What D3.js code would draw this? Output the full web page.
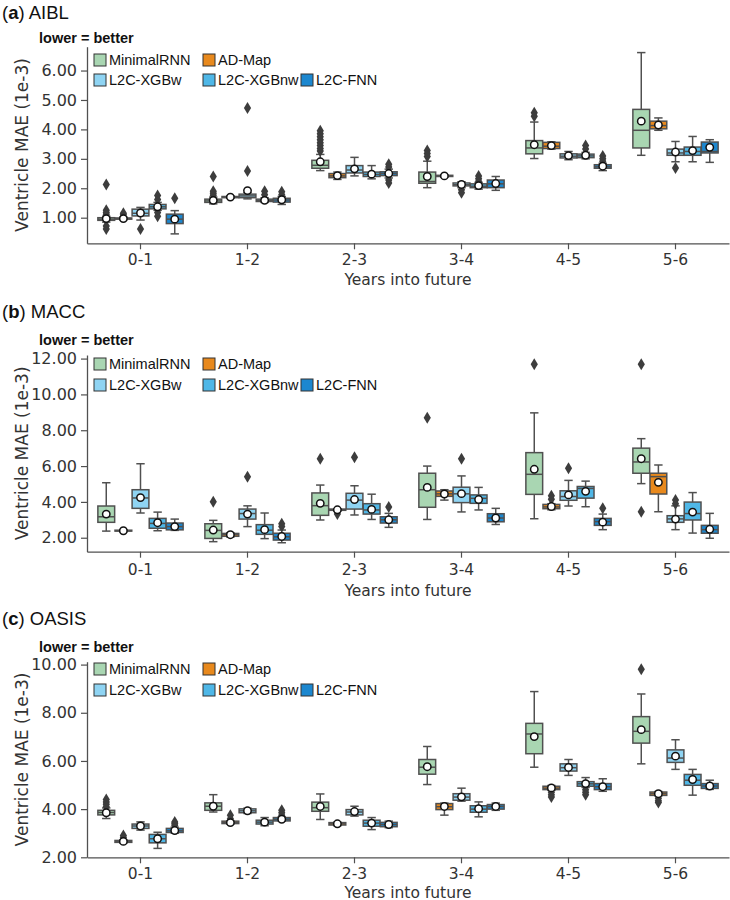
<!DOCTYPE html>
<html><head><meta charset="utf-8">
<script src="https://cdn.jsdelivr.net/npm/d3@7"></script>
<style>body{margin:0;background:#fff}svg{display:block}</style>
</head><body><svg id="chart" width="730" height="900"></svg>
<script>
const categories = ["0-1", "1-2", "2-3", "3-4", "4-5", "5-6"];
const models = ["MinimalRNN", "AD-Map", "L2C-XGBw", "L2C-XGBnw", "L2C-FNN"];
const yTicksAIBL = [1, 2, 3, 4, 5, 6];
const yTicksMACC = [2, 4, 6, 8, 10, 12];
const yTicksOASIS = [2, 4, 6, 8, 10];

// each row: [whisker low, q1, median, q3, whisker high, mean, [outliers]]
const aibl_MinimalRNN = [
  [0.85, 0.91, 0.95, 1.00, 1.05, 0.97, [2.13, 1.25, 1.18, 1.12, 0.72, 0.62]],
  [1.47, 1.52, 1.57, 1.63, 1.70, 1.59, [2.40, 1.90, 1.83, 1.76]],
  [2.60, 2.68, 2.78, 2.95, 3.15, 2.90, [3.95, 3.85, 3.75, 3.65, 3.55, 3.45, 3.35, 3.27]],
  [2.02, 2.17, 2.23, 2.55, 2.92, 2.40, [3.28, 3.18, 3.08]],
  [3.01, 3.17, 3.37, 3.62, 4.25, 3.48, [4.57, 4.45]],
  [3.12, 3.37, 3.97, 4.68, 6.61, 4.28, []]
];
const aibl_ADMap = [
  [0.93, 0.95, 0.97, 0.99, 1.02, 0.97, [1.15, 1.10]],
  [1.66, 1.68, 1.70, 1.72, 1.74, 1.70, []],
  [2.30, 2.36, 2.42, 2.50, 2.55, 2.43, []],
  [2.38, 2.40, 2.42, 2.44, 2.46, 2.42, []],
  [3.33, 3.35, 3.43, 3.56, 3.58, 3.45, []],
  [3.97, 4.02, 4.13, 4.28, 4.39, 4.15, []]
];
const aibl_XGBw = [
  [0.92, 1.06, 1.15, 1.29, 1.35, 1.16, [0.62]],
  [1.64, 1.68, 1.74, 1.80, 1.85, 1.92, [4.73, 2.59]],
  [2.42, 2.52, 2.62, 2.77, 3.05, 2.66, []],
  [2.02, 2.08, 2.12, 2.18, 2.22, 2.13, [1.95, 1.85]],
  [2.97, 3.03, 3.09, 3.17, 3.25, 3.11, []],
  [2.90, 3.12, 3.20, 3.33, 3.59, 3.23, [2.69]]
];
const aibl_XGBnw = [
  [1.25, 1.30, 1.37, 1.45, 1.52, 1.37, [1.75, 1.62, 1.18, 1.05]],
  [1.52, 1.55, 1.58, 1.63, 1.68, 1.59, [1.90, 1.78]],
  [2.32, 2.40, 2.47, 2.55, 2.77, 2.48, []],
  [1.97, 2.02, 2.07, 2.15, 2.20, 2.09, [2.42, 2.32, 2.24]],
  [3.00, 3.04, 3.10, 3.16, 3.22, 3.12, [3.45, 3.33]],
  [2.90, 3.12, 3.25, 3.40, 3.76, 3.28, []]
];
const aibl_FNN = [
  [0.45, 0.80, 0.95, 1.12, 1.24, 0.95, [1.66]],
  [1.45, 1.53, 1.60, 1.66, 1.72, 1.61, [1.88, 1.78]],
  [2.35, 2.43, 2.50, 2.56, 2.65, 2.50, [2.82, 2.72, 2.28, 2.18]],
  [1.93, 2.02, 2.15, 2.28, 2.40, 2.16, []],
  [2.60, 2.68, 2.73, 2.80, 2.85, 2.75, [3.10, 3.00, 2.92]],
  [2.88, 3.20, 3.25, 3.57, 3.65, 3.39, []]
];

const macc_MinimalRNN = [
  [2.37, 2.86, 3.17, 3.77, 5.07, 3.32, []],
  [1.78, 1.96, 2.41, 2.78, 2.97, 2.43, [4.01]],
  [2.99, 3.25, 3.79, 4.50, 4.94, 3.92, [6.41]],
  [3.02, 3.70, 4.68, 5.60, 6.00, 4.81, [8.70]],
  [3.06, 4.42, 5.54, 6.75, 8.97, 5.82, [11.69]],
  [5.02, 5.60, 6.23, 7.00, 7.53, 6.41, [11.69, 3.45]]
];
const macc_ADMap = [
  [2.34, 2.37, 2.39, 2.42, 2.44, 2.39, []],
  [2.04, 2.08, 2.17, 2.24, 2.28, 2.17, []],
  [3.50, 3.53, 3.56, 3.60, 3.62, 3.56, [3.32]],
  [4.10, 4.31, 4.45, 4.61, 4.68, 4.44, []],
  [3.56, 3.62, 3.72, 3.86, 3.90, 3.74, [4.35, 4.15]],
  [3.45, 4.44, 5.41, 5.60, 6.06, 5.09, []]
];
const macc_XGBw = [
  [3.38, 3.64, 4.22, 4.68, 6.13, 4.24, []],
  [2.62, 3.04, 3.35, 3.60, 3.78, 3.32, [5.41]],
  [3.27, 3.60, 4.10, 4.48, 4.90, 4.13, [6.49]],
  [3.44, 3.96, 4.45, 4.82, 5.45, 4.46, [6.41]],
  [3.77, 4.09, 4.30, 4.62, 5.20, 4.39, [5.88]],
  [2.45, 2.86, 3.05, 3.23, 3.78, 3.04, [4.10, 3.90]]
];
const macc_XGBnw = [
  [2.39, 2.53, 2.80, 3.08, 3.43, 2.84, []],
  [1.95, 2.19, 2.42, 2.73, 3.38, 2.45, []],
  [3.02, 3.32, 3.55, 3.90, 4.43, 3.58, []],
  [3.55, 3.92, 4.20, 4.39, 4.81, 4.13, []],
  [3.73, 4.21, 4.75, 4.86, 5.16, 4.59, []],
  [2.26, 2.99, 3.35, 3.99, 4.52, 3.43, []]
];
const macc_FNN = [
  [2.41, 2.44, 2.62, 2.82, 3.04, 2.62, []],
  [1.72, 1.87, 2.05, 2.25, 2.43, 2.07, [2.78, 2.62]],
  [2.58, 2.82, 3.00, 3.17, 3.36, 3.00, [3.72]],
  [2.74, 2.89, 3.10, 3.34, 3.64, 3.10, []],
  [2.45, 2.69, 2.90, 3.08, 3.32, 2.87, [3.64]],
  [1.97, 2.25, 2.45, 2.69, 3.36, 2.47, []]
];

const oasis_MinimalRNN = [
  [3.61, 3.76, 3.86, 3.95, 4.05, 3.85, [4.40, 4.30, 4.20, 4.10]],
  [3.88, 3.95, 4.12, 4.26, 4.60, 4.12, []],
  [3.57, 3.91, 4.06, 4.29, 4.63, 4.11, []],
  [5.02, 5.45, 5.74, 6.06, 6.60, 5.76, []],
  [5.74, 6.30, 7.12, 7.56, 8.88, 7.01, []],
  [5.88, 6.74, 7.23, 7.84, 8.78, 7.30, [9.81]]
];
const oasis_ADMap = [
  [2.60, 2.62, 2.66, 2.70, 2.72, 2.66, [2.90, 2.82]],
  [3.38, 3.40, 3.44, 3.50, 3.52, 3.44, [3.75, 3.60]],
  [3.31, 3.34, 3.39, 3.44, 3.46, 3.39, []],
  [3.75, 3.98, 4.10, 4.23, 4.25, 4.11, []],
  [4.78, 4.81, 4.87, 4.95, 4.98, 4.88, [4.70, 4.60, 4.50]],
  [4.55, 4.57, 4.64, 4.71, 4.73, 4.64, [4.45, 4.35, 4.28]]
];
const oasis_XGBw = [
  [3.13, 3.20, 3.30, 3.38, 3.47, 3.30, []],
  [3.82, 3.85, 3.93, 4.01, 4.04, 3.93, []],
  [3.71, 3.76, 3.88, 3.98, 4.12, 3.90, []],
  [4.33, 4.37, 4.50, 4.64, 4.87, 4.51, []],
  [5.40, 5.58, 5.72, 5.88, 6.06, 5.73, []],
  [5.65, 5.94, 6.12, 6.46, 6.88, 6.20, []]
];
const oasis_XGBnw = [
  [2.37, 2.60, 2.77, 2.95, 3.04, 2.77, []],
  [3.31, 3.38, 3.46, 3.54, 3.65, 3.46, []],
  [3.15, 3.29, 3.42, 3.54, 3.65, 3.42, []],
  [3.68, 3.87, 4.00, 4.14, 4.30, 4.02, []],
  [4.90, 4.95, 5.05, 5.14, 5.31, 5.06, [4.80, 4.70, 4.60]],
  [4.58, 4.99, 5.20, 5.44, 5.65, 5.23, []]
];
const oasis_FNN = [
  [3.00, 3.03, 3.10, 3.20, 3.25, 3.11, [3.47, 3.40, 3.33]],
  [3.50, 3.51, 3.58, 3.65, 3.68, 3.58, [3.95, 3.85, 3.75]],
  [3.23, 3.27, 3.36, 3.45, 3.50, 3.36, []],
  [3.95, 4.00, 4.11, 4.19, 4.25, 4.11, []],
  [4.74, 4.81, 4.93, 5.06, 5.26, 4.93, []],
  [4.82, 4.86, 4.96, 5.06, 5.20, 4.96, []]
];

// ---------- styling / layout ----------
const modelColors = ["#a9d6b2", "#e8891d", "#8fd4f3", "#4fb7e7", "#1c87cf"];
const lineColor = "#505050";
const textColor = "#333333";
const FONT = "'Liberation Sans', Arial, sans-serif";
const TICKFONT = "'DejaVu Sans', sans-serif";

const panels = [
  {letter: "a", name: "AIBL", data: [aibl_MinimalRNN, aibl_ADMap, aibl_XGBw, aibl_XGBnw, aibl_FNN],
   ticks: yTicksAIBL, domain: [0.13, 6.81], top: 46.7, bottom: 243.3,
   titleY: 12, noteY: 37.5, legY: [60, 80], xLabY: 260, xTitleY: 280},
  {letter: "b", name: "MACC", data: [macc_MinimalRNN, macc_ADMap, macc_XGBw, macc_XGBnw, macc_FNN],
   ticks: yTicksMACC, domain: [1.22, 12.2], top: 355, bottom: 551.7,
   titleY: 310.5, noteY: 340, legY: [364, 385], xLabY: 570, xTitleY: 591},
  {letter: "c", name: "OASIS", data: [oasis_MinimalRNN, oasis_ADMap, oasis_XGBw, oasis_XGBnw, oasis_FNN],
   ticks: yTicksOASIS, domain: [2, 10.12], top: 661.7, bottom: 857.3,
   titleY: 618, noteY: 647, legY: [669, 690], xLabY: 874, xTitleY: 892.5}
];

const left = 87, right = 729;
const svg = d3.select("#chart");

const x0 = d3.scaleBand().domain(categories).range([left, right]).paddingInner(0).paddingOuter(0);
const x1 = d3.scaleBand().domain(models)
  .range([x0.bandwidth() * 0.1, x0.bandwidth() * 0.9]).paddingInner(0).paddingOuter(0);
const boxW = x1.bandwidth() * 0.98;

const legendLayout = [
  {m: 0, row: 0, x: 94}, {m: 1, row: 0, x: 203},
  {m: 2, row: 1, x: 94}, {m: 3, row: 1, x: 203}, {m: 4, row: 1, x: 301}
];

const diamond = "M0,-6L3.6,0L0,6L-3.6,0Z";

panels.forEach(p => {
  const g = svg.append("g");
  const y = d3.scaleLinear().domain(p.domain).range([p.bottom, p.top]);

  // title
  const t = g.append("text").attr("x", 2).attr("y", p.titleY)
    .attr("dominant-baseline", "central")
    .style("font-family", FONT).style("font-size", "18.5px").attr("fill", "#111");
  t.append("tspan").text("(");
  t.append("tspan").attr("font-weight", "bold").text(p.letter);
  t.append("tspan").text(") " + p.name);

  g.append("text").attr("x", 39).attr("y", p.noteY).attr("dominant-baseline", "central")
    .style("font-family", FONT).style("font-size", "14.5px").style("font-weight", "bold")
    .attr("fill", "#111").text("lower = better");

  // axes
  const ya = g.append("g").attr("transform", `translate(${left},0)`)
    .call(d3.axisLeft(y).tickValues(p.ticks).tickFormat(d3.format(".2f")).tickSize(6).tickSizeOuter(0).tickPadding(4));
  const xa = g.append("g").attr("transform", `translate(0,${p.bottom})`)
    .call(d3.axisBottom(x0).tickSize(6).tickSizeOuter(0).tickPadding(5));
  [ya, xa].forEach(a => {
    a.select(".domain").attr("stroke", lineColor).attr("stroke-width", 1.3);
    a.selectAll(".tick line").attr("stroke", lineColor).attr("stroke-width", 1.2);
    a.selectAll(".tick text").attr("fill", textColor)
      .style("font-family", TICKFONT).style("font-size", "16px");
  });
  xa.selectAll(".tick text").attr("dy", null).attr("y", p.xLabY - p.bottom).attr("dominant-baseline", "central")
    .style("font-size", "15.5px");

  g.append("text").attr("x", (left + right) / 2).attr("y", p.xTitleY)
    .attr("text-anchor", "middle").attr("dominant-baseline", "central")
    .style("font-family", TICKFONT).style("font-size", "15.5px").attr("fill", textColor)
    .text("Years into future");

  g.append("text").attr("transform", `translate(28,${(p.top + p.bottom) / 2}) rotate(-90)`)
    .attr("text-anchor", "middle")
    .style("font-family", TICKFONT).style("font-size", "17px").attr("fill", textColor)
    .text("Ventricle MAE (1e-3)");

  // boxes
  models.forEach((m, mi) => {
    const rows = p.data[mi];
    categories.forEach((c, ci) => {
      const [lo, q1, med, q3, hi, mean, outs] = rows[ci];
      const cx = x0(c) + x1(m) + x1.bandwidth() / 2;
      const bg = g.append("g");
      bg.append("line").attr("x1", cx).attr("x2", cx).attr("y1", y(q3)).attr("y2", y(hi))
        .attr("stroke", lineColor).attr("stroke-width", 1.5);
      bg.append("line").attr("x1", cx).attr("x2", cx).attr("y1", y(q1)).attr("y2", y(lo))
        .attr("stroke", lineColor).attr("stroke-width", 1.5);
      [lo, hi].forEach(v => bg.append("line")
        .attr("x1", cx - boxW / 4).attr("x2", cx + boxW / 4).attr("y1", y(v)).attr("y2", y(v))
        .attr("stroke", lineColor).attr("stroke-width", 1.5));
      bg.append("rect").attr("x", cx - boxW / 2).attr("width", boxW)
        .attr("y", y(q3)).attr("height", Math.max(0.5, y(q1) - y(q3)))
        .attr("fill", modelColors[mi]).attr("stroke", lineColor).attr("stroke-width", 1.5);
      bg.append("line").attr("x1", cx - boxW / 2).attr("x2", cx + boxW / 2)
        .attr("y1", y(med)).attr("y2", y(med)).attr("stroke", lineColor).attr("stroke-width", 1.5);
      outs.forEach(o => bg.append("path").attr("d", diamond)
        .attr("transform", `translate(${cx},${y(o)})`).attr("fill", "#3d3d3d"));
      bg.append("circle").attr("cx", cx).attr("cy", y(mean)).attr("r", 3.7)
        .attr("fill", "#fff").attr("stroke", "#111").attr("stroke-width", 1.5);
    });
  });

  // legend
  legendLayout.forEach(L => {
    const ly = p.legY[L.row];
    g.append("rect").attr("x", L.x).attr("y", ly - 6).attr("width", 12).attr("height", 12)
      .attr("fill", modelColors[L.m]).attr("stroke", "#333").attr("stroke-width", 1);
    g.append("text").attr("x", L.x + 15).attr("y", ly).attr("dominant-baseline", "central")
      .style("font-family", FONT).style("font-size", "14.5px").attr("fill", "#111")
      .text(models[L.m]);
  });
});
</script>
</body></html>
